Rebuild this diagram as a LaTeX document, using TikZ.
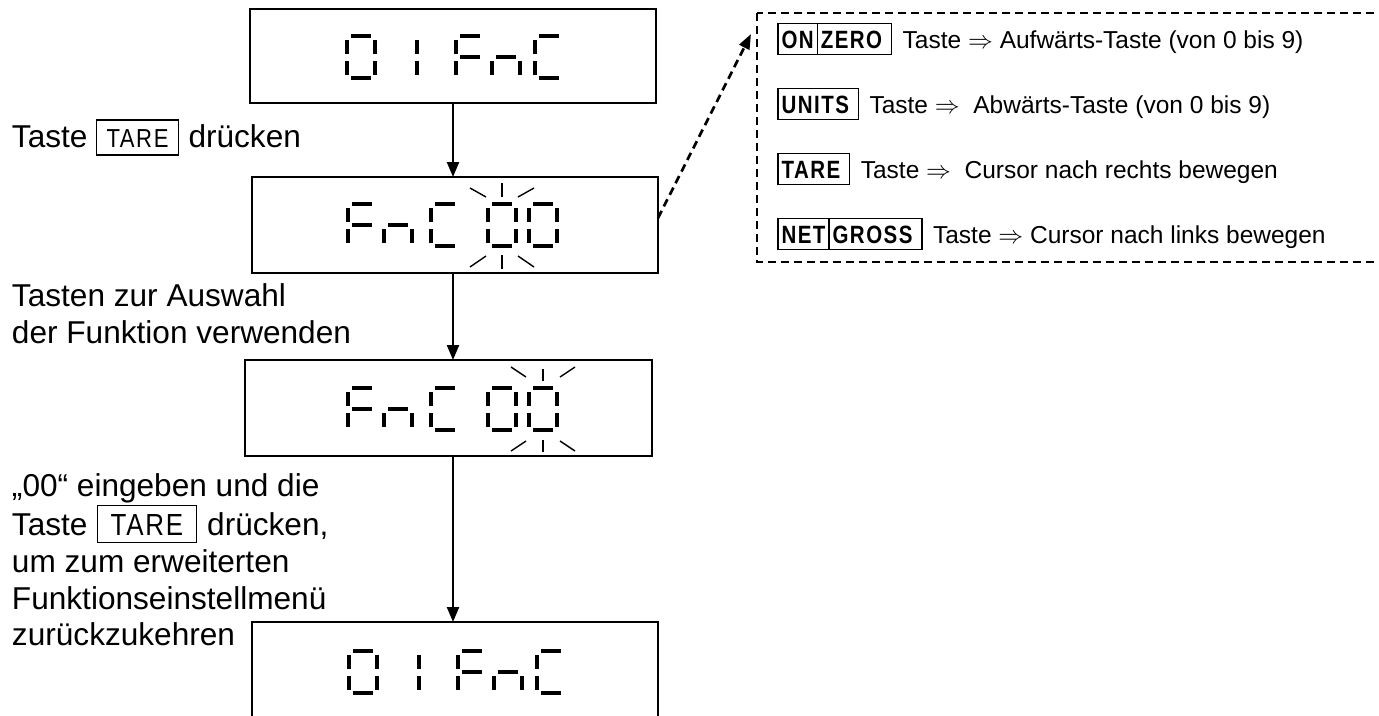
\documentclass[tikz,border=0pt]{standalone}
\usepackage{fontspec}
\setmainfont{Liberation Sans}
\newfontfamily\keyB{Liberation Sans}[FakeStretch=0.82,LetterSpace=6]
\newfontfamily\keyL{Liberation Sans}[FakeStretch=0.85,LetterSpace=6]
\usetikzlibrary{arrows.meta}
\newcommand\sgA{\draw[segm] (4,0) -- (24,0);}
\newcommand\sgB{\draw[segm] (28,4) -- (28,18);}
\newcommand\sgC{\draw[segm] (28,25) -- (28,39);}
\newcommand\sgD{\draw[segm] (4,42) -- (24,42);}
\newcommand\sgE{\draw[segm] (0,25) -- (0,39);}
\newcommand\sgF{\draw[segm] (0,4) -- (0,18);}
\newcommand\sgG{\draw[segm] (4,21) -- (24,21);}
\newcommand\sevdigit[3]{\begin{scope}[shift={(#1,#2)}]#3\end{scope}}
\begin{document}
\begin{tikzpicture}[x=1pt,y=-1pt,
  dispbox/.style={draw, line width=2.3pt, inner sep=0pt, outer sep=0pt},
  segm/.style={line width=3.8pt, line cap=butt},
  flashln/.style={line width=1.4pt},
  flow/.style={line width=2.3pt, -{Triangle[length=15pt,width=12pt]}},
  dashln/.style={line width=2.7pt, dash pattern=on 8pt off 5pt},
  ltxt/.style={inner sep=0pt, outer sep=0pt, font=\fontsize{31.6pt}{37pt}\selectfont},
  rtxt/.style={inner sep=0pt, outer sep=0pt, font=\fontsize{24.5pt}{29pt}\selectfont},
  keyl/.style={draw, line width=1.2pt, inner xsep=10pt, inner ysep=8pt, outer sep=0pt, text height=19pt, text depth=0pt, font=\keyL\fontsize{26pt}{30pt}\selectfont},
  keylw/.style={keyl, inner xsep=13pt, inner ysep=7.5pt, text height=22pt, font=\keyL\fontsize{30.5pt}{36pt}\selectfont},
  keyr/.style={draw, line width=1.2pt, inner xsep=3.5pt, inner ysep=6.5pt, outer sep=0pt, text height=18pt, text depth=0pt, font=\keyB\bfseries\fontsize{25pt}{30pt}\selectfont},
]
\useasboundingbox (0,0) rectangle (1379,715);

% display boxes
\node[dispbox, minimum width=406pt, minimum height=94pt] (b1) at (453,56) {};
\node[dispbox, minimum width=406pt, minimum height=96pt] (b2) at (455,225) {};
\node[dispbox, minimum width=407pt, minimum height=96pt] (b3) at (448.5,408) {};
\node[dispbox, minimum width=406pt, minimum height=96pt] (b4) at (455,670) {};

% box 1: 01FnC
\sevdigit{347}{36}{\sgA\sgB\sgC\sgD\sgE\sgF}
\sevdigit{389}{36}{\sgB\sgC}
\sevdigit{456}{36}{\sgA\sgF\sgE\sgG}
\sevdigit{492}{36}{\sgC\sgE\sgG}
\sevdigit{535}{36}{\sgA\sgF\sgE\sgD}

% box 2: FnC 00
\sevdigit{348}{204}{\sgA\sgF\sgE\sgG}
\sevdigit{384}{204}{\sgC\sgE\sgG}
\sevdigit{431}{204}{\sgA\sgF\sgE\sgD}
\sevdigit{488}{204}{\sgA\sgB\sgC\sgD\sgE\sgF}
\sevdigit{529}{204}{\sgA\sgB\sgC\sgD\sgE\sgF}
\draw[flashln] (502,183) -- (502,197);
\draw[flashln] (470,188) -- (486,197);
\draw[flashln] (518,197) -- (534,188);
\draw[flashln] (502,255) -- (502,269);
\draw[flashln] (470,267) -- (486,256);
\draw[flashln] (518,256) -- (534,267);

% box 3: FnC 00
\sevdigit{348}{388}{\sgA\sgF\sgE\sgG}
\sevdigit{384}{388}{\sgC\sgE\sgG}
\sevdigit{431}{388}{\sgA\sgF\sgE\sgD}
\sevdigit{488}{388}{\sgA\sgB\sgC\sgD\sgE\sgF}
\sevdigit{529}{388}{\sgA\sgB\sgC\sgD\sgE\sgF}
\draw[flashln] (543,369) -- (543,381);
\draw[flashln] (511,367) -- (526,377);
\draw[flashln] (560,377) -- (575,367);
\draw[flashln] (543,440) -- (543,452);
\draw[flashln] (511,451) -- (526,441);
\draw[flashln] (560,441) -- (575,451);

% box 4: 01FnC
\sevdigit{349}{651}{\sgA\sgB\sgC\sgD\sgE\sgF}
\sevdigit{391}{651}{\sgB\sgC}
\sevdigit{458}{651}{\sgA\sgF\sgE\sgG}
\sevdigit{494}{651}{\sgC\sgE\sgG}
\sevdigit{537}{651}{\sgA\sgF\sgE\sgD}

% flow arrows
\coordinate (ax) at (453,0);
\draw[flow] (b1.south -| ax) -- (b2.north -| ax);
\draw[flow] (b2.south -| ax) -- (b3.north -| ax);
\draw[flow] (b3.south -| ax) -- (b4.north -| ax);

% left texts
\node[ltxt, anchor=base west] (t1a) at (12,147) {Taste};
\node[keyl, anchor=base west] (t1k) at ([xshift=9pt]t1a.base east) {TARE};
\node[ltxt, anchor=base west] (t1b) at ([xshift=10pt]t1k.base east) {drücken};

\node[ltxt, anchor=base west] (t2a) at (12,306) {Tasten zur Auswahl};
\node[ltxt, anchor=base west] (t2b) at (12,343) {der Funktion verwenden};

\node[ltxt, anchor=base west] (t3a) at (12,496) {„00“ eingeben und die};
\node[ltxt, anchor=base west] (t3b) at (12,535) {Taste};
\node[keylw, anchor=base west] (t3k) at ([xshift=10pt]t3b.base east) {TARE};
\node[ltxt, anchor=base west] (t3c) at ([xshift=11pt]t3k.base east) {drücken,};
\node[ltxt, anchor=base west] (t3d) at (12,572) {um zum erweiterten};
\node[ltxt, anchor=base west] (t3e) at (12,609) {Funktionseinstellmenü};
\node[ltxt, anchor=base west] (t3f) at (12,645) {zurückzukehren};

% dashed legend frame
\draw[dashln] (757,13) rectangle (1395,262);
\coordinate (dtip) at (751,34);
\draw[dashln, -{Triangle[length=15pt,width=11pt]}] ([yshift=7pt]b2.east) -- (dtip);

% legend lines
\node[keyr, anchor=base west] (k1a) at (778,48) {ON};
\node[keyr, anchor=base west] (k1b) at (k1a.base east) {ZERO\hspace*{6pt}};
\node[rtxt, anchor=base west] (r1) at ([xshift=11pt]k1b.base east) {Taste $\Rightarrow$ Aufwärts-Taste (von 0 bis 9)};

\node[keyr, anchor=base west] (k2) at (778,113) {UNITS\hspace*{6pt}};
\node[rtxt, anchor=base west] (r2) at ([xshift=11pt]k2.base east) {Taste $\Rightarrow$\ \ Abwärts-Taste (von 0 bis 9)};

\node[keyr, anchor=base west] (k3) at (778,178) {TARE\hspace*{6pt}};
\node[rtxt, anchor=base west] (r3) at ([xshift=11pt]k3.base east) {Taste $\Rightarrow$\ \ Cursor nach rechts bewegen};

\node[keyr, anchor=base west] (k4a) at (778,243) {NET};
\node[keyr, anchor=base west] (k4b) at (k4a.base east) {GROSS\hspace*{6pt}};
\node[rtxt, anchor=base west] (r4) at ([xshift=11pt]k4b.base east) {Taste $\Rightarrow$ Cursor nach links bewegen};
\end{tikzpicture}
\end{document}
